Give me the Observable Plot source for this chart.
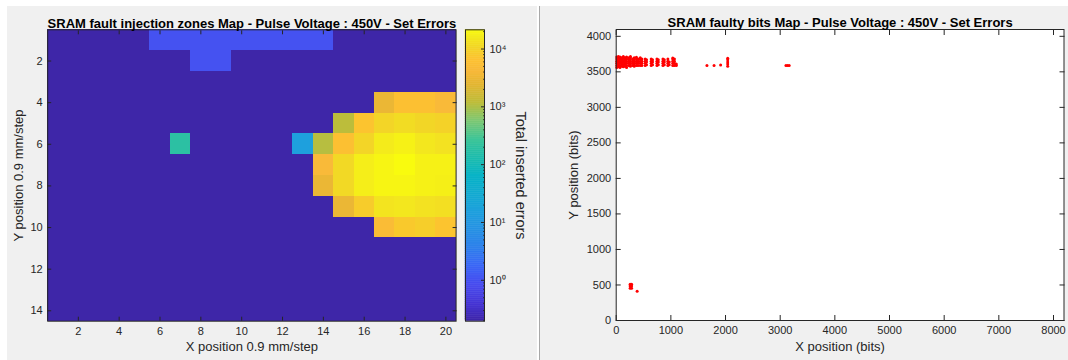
<!DOCTYPE html>
<html><head><meta charset="utf-8">
<script src="https://cdn.jsdelivr.net/npm/d3@7"></script>
<script src="https://cdn.jsdelivr.net/npm/@observablehq/plot@0.6"></script>
<style>
body{margin:0;background:#fff;}
#wrap{position:relative;width:1068px;height:360px;overflow:hidden;background:#fff;font-family:"Liberation Sans",Arial,Helvetica,sans-serif;}
.panel{position:absolute;background:#f0f0f0;}
#wrap svg{position:absolute;top:0;}
</style></head><body><div id="wrap">
<div class="panel" style="left:7px;top:6px;width:530px;height:354px"></div>
<div class="panel" style="left:539px;top:6px;width:529px;height:354px;border-left:1px solid #a8a8a8"></div>
</div>
<script>
// ---------- data ----------
const gridCols = [1,2,3,4,5,6,7,8,9,10,11,12,13,14,15,16,17,18,19,20];
const gridRows = [1,2,3,4,5,6,7,8,9,10,11,12,13,14];
const totalErrors = [
  [0,0,0,0,0,1,1,1,1,1,1,1,1,1,0,0,0,0,0,0],
  [0,0,0,0,0,0,0,1,1,0,0,0,0,0,0,0,0,0,0,0],
  [0,0,0,0,0,0,0,0,0,0,0,0,0,0,0,0,0,0,0,0],
  [0,0,0,0,0,0,0,0,0,0,0,0,0,0,0,0,3000,6000,6000,4500],
  [0,0,0,0,0,0,0,0,0,0,0,0,0,0,1170,7100,10400,12000,10800,9800],
  [0,0,0,0,0,0,186,0,0,0,0,0,15,1100,6000,10400,16200,18200,15300,13600],
  [0,0,0,0,0,0,0,0,0,0,0,0,0,4500,11400,17000,19400,21500,18200,18000],
  [0,0,0,0,0,0,0,0,0,0,0,0,0,3000,11400,17000,19400,19400,18200,17500],
  [0,0,0,0,0,0,0,0,0,0,0,0,0,0,3000,8500,14400,15300,13600,13000],
  [0,0,0,0,0,0,0,0,0,0,0,0,0,0,0,0,5000,8000,9000,7100],
  [0,0,0,0,0,0,0,0,0,0,0,0,0,0,0,0,0,0,0,0],
  [0,0,0,0,0,0,0,0,0,0,0,0,0,0,0,0,0,0,0,0],
  [0,0,0,0,0,0,0,0,0,0,0,0,0,0,0,0,0,0,0,0],
  [0,0,0,0,0,0,0,0,0,0,0,0,0,0,0,0,0,0,0,0]
];
const colorMin = 0.196, colorMax = 21500;
const colorbarTicks = [1, 10, 100, 1000, 10000];
const colorbarTickLabels = ["10\u2070", "10\u00b9", "10\u00b2", "10\u00b3", "10\u2074"];
const heatXTicks = [2,4,6,8,10,12,14,16,18,20];
const heatYTicks = [2,4,6,8,10,12,14];

const bitsXTicks = [0,1000,2000,3000,4000,5000,6000,7000,8000];
const bitsYTicks = [0,500,1000,1500,2000,2500,3000,3500,4000];
// faulty bits: x position per column and the y positions in that column
const faultColX = [10,40,70,100,130,160,190,230,260,300,330,370,400,440,470,530,555,640,665,745,770,855,880,945,970,1035,1065,1100,1660,1790,1910,2040,3105,3135,3165,255,282,383];
const faultColY = [
  [3560,3590,3620,3650,3680,3710],
  [3570,3600,3630,3660,3690,3715],
  [3560,3590,3620,3650,3680,3710],
  [3580,3610,3640,3670,3700],
  [3570,3600,3630,3660,3690,3715],
  [3580,3610,3640,3670,3700],
  [3560,3590,3620,3650,3680,3710],
  [3590,3620,3650,3680,3700],
  [3580,3610,3640,3670,3700,3715],
  [3590,3620,3650,3680],
  [3580,3610,3640,3670,3700],
  [3590,3620,3650,3680,3705],
  [3590,3620,3650,3680],
  [3590,3620,3650,3680,3700],
  [3590,3620,3650,3680],
  [3590,3620,3650,3680],
  [3600,3640,3670],
  [3590,3620,3650,3680],
  [3600,3640,3670],
  [3590,3620,3650,3680],
  [3600,3640,3670],
  [3590,3620,3650,3680],
  [3600,3640,3670],
  [3590,3620,3650,3680],
  [3600,3640],
  [3590,3620,3650,3680,3695],
  [3590,3620,3650,3680],
  [3590,3610],
  [3590],
  [3590],
  [3595],
  [3580,3610,3640,3670,3690],
  [3590],
  [3590],
  [3590],
  [455,485,510],
  [455,485,510],
  [412]
];

// parula colormap stops (position, colour)
const parulaPos = [0,0.06,0.125,0.19,0.25,0.31,0.375,0.44,0.5,0.56,0.625,0.69,0.75,0.81,0.86,0.9,0.94,0.97,1];
const parulaCol = ["#3e26a8","#4534d4","#484cef","#3a66f6","#2f80ec","#2690e4","#1ea0dd","#11abd0","#08b3c6","#1cbcad","#3ec597","#80c770","#bdbd3a","#e2b531","#f8b93a","#fdc230","#f2d626","#f3e71e","#f9fb0e"];

// ---------- build ----------
const FONT = '"Liberation Sans", Arial, Helvetica, sans-serif';
const INK = "#262626";
const parulaScale = d3.scaleLinear().domain(parulaPos).range(parulaCol).interpolate(d3.interpolateRgb).clamp(true);
const parula = t => parulaScale(t);

const cells = [];
gridRows.forEach((r, i) => gridCols.forEach((c, j) => cells.push({x: c, y: r, v: totalErrors[i][j]})));

const colorOpts = {type: "log", domain: [colorMin, colorMax], interpolate: parula, clamp: true};

const baseStyle = {background: "transparent", fontFamily: FONT, fontSize: "11px", color: INK, overflow: "visible"};

const heat = Plot.plot({
  width: 540, height: 360,
  marginLeft: 47.2, marginRight: 84.4, marginTop: 29.3, marginBottom: 39.3,
  style: baseStyle,
  x: {domain: [0.5, 20.5]},
  y: {domain: [0.5, 14.5], reverse: true},
  color: colorOpts,
  marks: [
    Plot.rect(cells, {x1: d => d.x - 0.5, x2: d => d.x + 0.5, y1: d => d.y - 0.5, y2: d => d.y + 0.5,
      fill: d => Math.max(d.v, colorMin), shapeRendering: "crispEdges"}),
    Plot.axisX({anchor: "bottom", ticks: heatXTicks, tickSize: -4, tickPadding: 10, label: null}),
    Plot.axisX({anchor: "top", ticks: heatXTicks, tickSize: -4, tickFormat: () => "", label: null}),
    Plot.axisY({anchor: "left", ticks: heatYTicks, tickSize: -4, tickPadding: 9, label: null}),
    Plot.axisY({anchor: "right", ticks: heatYTicks, tickSize: -4, tickFormat: () => "", label: null}),
    Plot.frame({stroke: INK}),
    Plot.text(["SRAM fault injection zones Map - Pulse Voltage : 450V - Set Errors"], {frameAnchor: "top", dy: -11.5, textAnchor: "middle", fontWeight: "bold", fontSize: 13, fill: "#000"}),
    Plot.text(["X position 0.9 mm/step"], {frameAnchor: "bottom", dy: 29.5, textAnchor: "middle", fontSize: 13}),
    Plot.text(["Y position 0.9 mm/step"], {frameAnchor: "left", dx: -28.5, rotate: -90, textAnchor: "middle", fontSize: 13})
  ]
});
heat.style.left = "0px";

// colour bar
const lo = Math.log10(colorMin), hi = Math.log10(colorMax);
const nStripes = 150;
const stripes = d3.range(nStripes).map(i => ({
  y1: Math.pow(10, lo + (hi - lo) * i / nStripes),
  y2: Math.pow(10, lo + (hi - lo) * (i + 1) / nStripes),
  v: Math.pow(10, lo + (hi - lo) * (i + 0.5) / nStripes)
}));
const minorTicks = [];
for (let k = -1; k <= 4; k++) for (let m = 2; m <= 9; m++) { const t = m * Math.pow(10, k); if (t > colorMin && t < colorMax) minorTicks.push(t); }

const cbar = Plot.plot({
  width: 540, height: 360,
  marginLeft: 465, marginRight: 56, marginTop: 29.3, marginBottom: 39.3,
  style: baseStyle,
  x: {domain: [0, 1], axis: null},
  y: {type: "log", domain: [colorMin, colorMax]},
  color: colorOpts,
  marks: [
    Plot.rect(stripes, {x1: 0, x2: 1, y1: "y1", y2: "y2", fill: "v", stroke: "v", strokeWidth: 0.5}),
    Plot.axisY({anchor: "right", ticks: minorTicks, tickSize: -2, tickFormat: () => "", label: null, strokeWidth: 0.8}),
    Plot.axisY({anchor: "right", ticks: colorbarTicks, tickSize: -4, tickPadding: 9, label: null,
      tickFormat: d => colorbarTickLabels[colorbarTicks.indexOf(d)]}),
    Plot.frame({stroke: INK}),
    Plot.text(["Total inserted errors"], {frameAnchor: "right", dx: 36, rotate: 90, textAnchor: "middle", fontSize: 14.5})
  ]
});
cbar.style.left = "0px";

// faulty bits map
const faults = [];
faultColX.forEach((x, i) => faultColY[i].forEach(y => faults.push({x, y})));

const bits = Plot.plot({
  width: 528, height: 360,
  marginLeft: 75.7, marginRight: 4.5, marginTop: 29, marginBottom: 40,
  style: baseStyle,
  x: {domain: [0, 8192]},
  y: {domain: [0, 4096]},
  marks: [
    Plot.frame({fill: "white", stroke: null}),
    Plot.dot(faults, {x: "x", y: "y", r: 1.5, fill: "#ff0000", stroke: null}),
    Plot.axisX({anchor: "bottom", ticks: bitsXTicks, tickSize: -5, tickPadding: 11, label: null, tickFormat: d => String(d)}),
    Plot.axisX({anchor: "top", ticks: bitsXTicks, tickSize: -5, tickFormat: () => "", label: null}),
    Plot.axisY({anchor: "left", ticks: bitsYTicks, tickSize: -5, tickPadding: 10, label: null, tickFormat: d => String(d)}),
    Plot.axisY({anchor: "right", ticks: bitsYTicks, tickSize: -5, tickFormat: () => "", label: null}),
    Plot.frame({stroke: INK}),
    Plot.text(["SRAM faulty bits Map - Pulse Voltage : 450V - Set Errors"], {frameAnchor: "top", dy: -11.5, textAnchor: "middle", fontWeight: "bold", fontSize: 13, fill: "#000"}),
    Plot.text(["X position (bits)"], {frameAnchor: "bottom", dy: 30, textAnchor: "middle", fontSize: 13}),
    Plot.text(["Y position (bits)"], {frameAnchor: "left", dx: -42.5, rotate: -90, textAnchor: "middle", fontSize: 13})
  ]
});
bits.style.left = "540px";

const wrap = document.getElementById("wrap");
wrap.appendChild(heat);
wrap.appendChild(cbar);
wrap.appendChild(bits);
</script>
</body></html>
